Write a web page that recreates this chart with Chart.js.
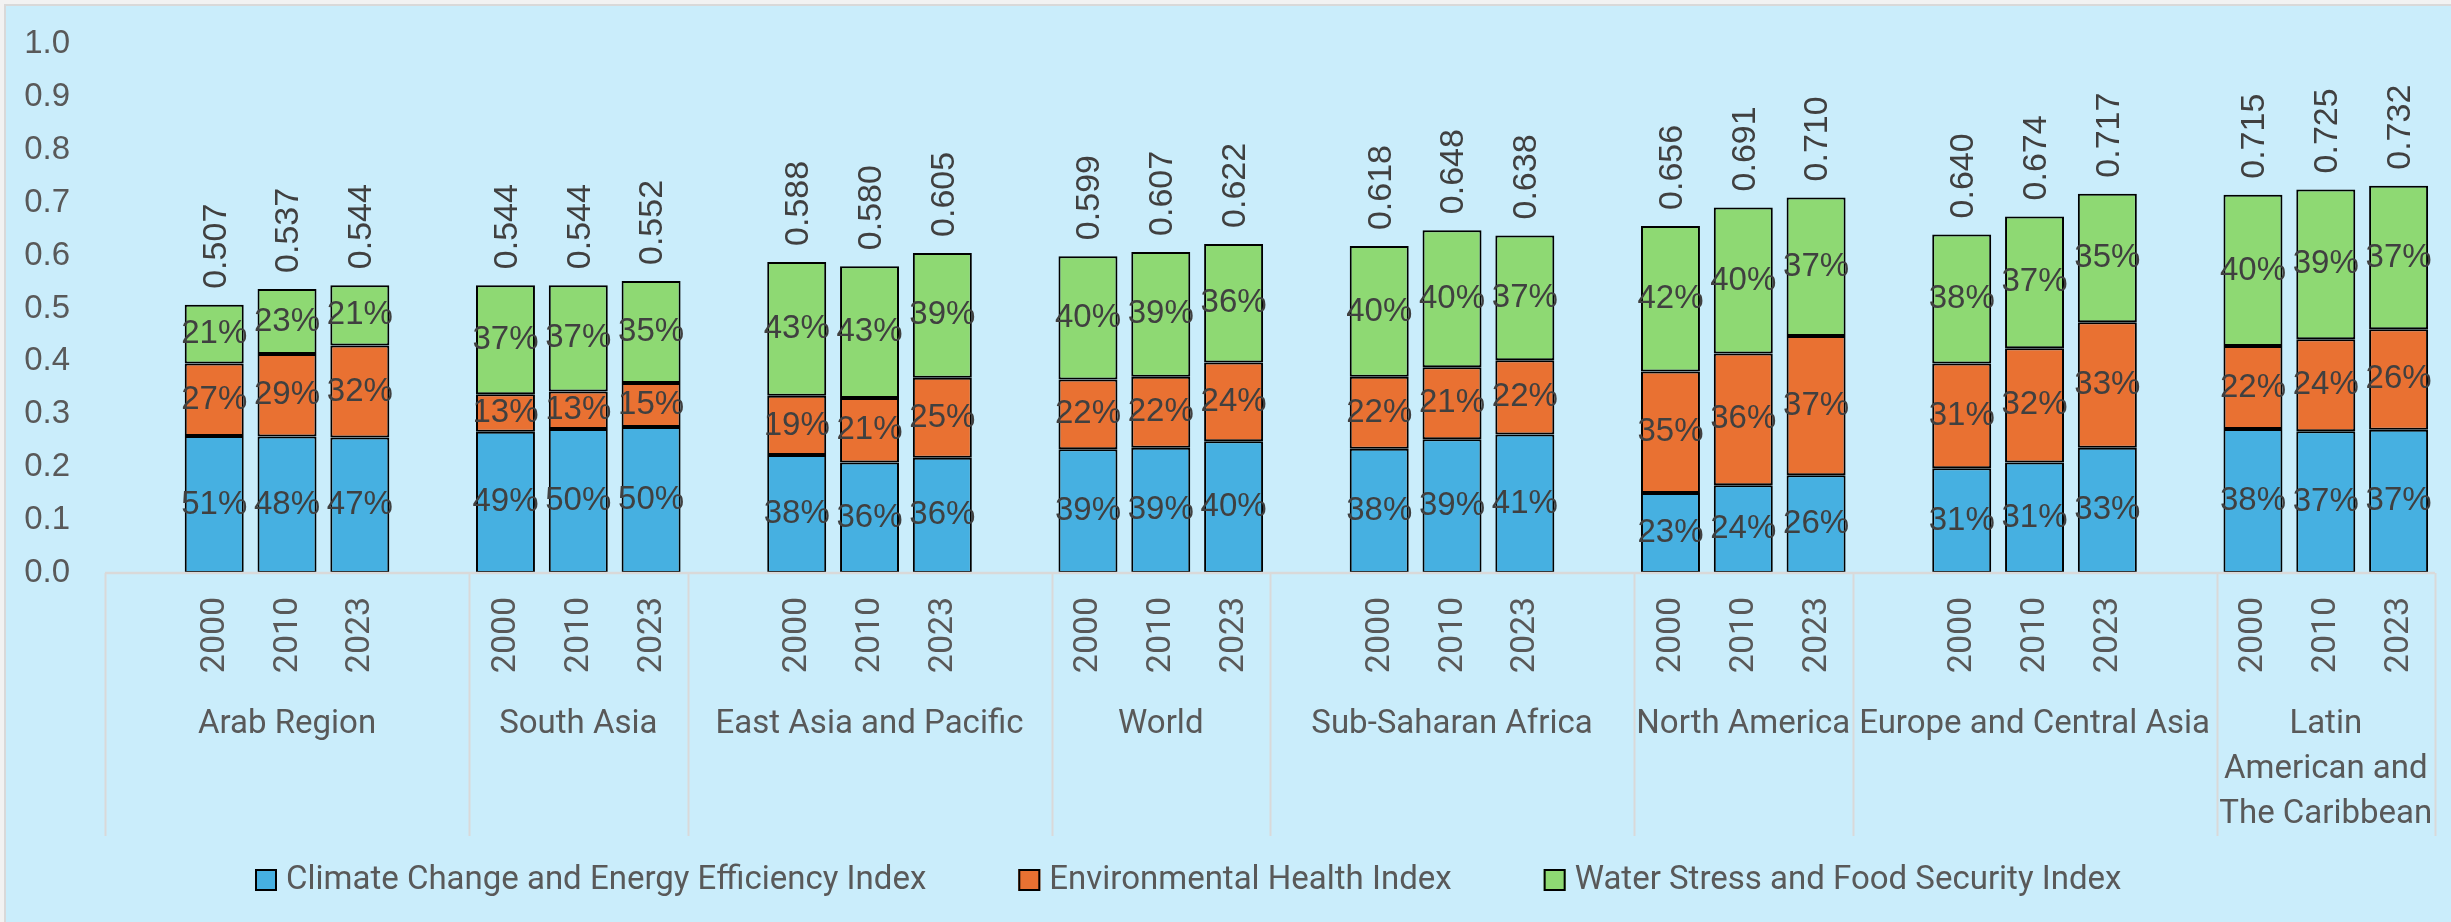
<!DOCTYPE html>
<html>
<head>
<meta charset="utf-8">
<title>Index components by region</title>
<script src="https://cdn.jsdelivr.net/npm/chart.js@4.4.1/dist/chart.umd.min.js"></script>
<style>
  html, body { margin: 0; padding: 0; background: #f2f2f2; }
  canvas { display: block; }
</style>
</head>
<body>
<canvas id="chart" width="2451" height="922"></canvas>
<script>
const regions = [
  'Arab Region', 'South Asia', 'East Asia and Pacific', 'World',
  'Sub-Saharan Africa', 'North America', 'Europe and Central Asia',
  ['Latin', 'American and', 'The Caribbean']
];
const years = ['2000', '2010', '2023'];

// index totals, one per region/year (region order above, years inside)
const totals = [
  0.507, 0.537, 0.544,  0.544, 0.544, 0.552,  0.588, 0.580, 0.605,  0.599, 0.607, 0.622,
  0.618, 0.648, 0.638,  0.656, 0.691, 0.710,  0.640, 0.674, 0.717,  0.715, 0.725, 0.732
];

// segment values
const climateValues = [
  0.259, 0.258, 0.256,  0.267, 0.272, 0.276,  0.223, 0.209, 0.218,  0.234, 0.237, 0.249,
  0.235, 0.253, 0.262,  0.151, 0.166, 0.185,  0.198, 0.209, 0.237,  0.272, 0.268, 0.271
];
const healthValues = [
  0.137, 0.156, 0.174,  0.071, 0.071, 0.083,  0.112, 0.122, 0.151,  0.132, 0.134, 0.149,
  0.136, 0.136, 0.140,  0.230, 0.249, 0.263,  0.198, 0.216, 0.237,  0.157, 0.174, 0.190
];
const waterValues = [
  0.111, 0.123, 0.114,  0.206, 0.201, 0.193,  0.253, 0.249, 0.236,  0.233, 0.236, 0.224,
  0.247, 0.259, 0.236,  0.275, 0.276, 0.262,  0.244, 0.249, 0.243,  0.286, 0.283, 0.271
];

// share labels as printed on the bars (%)
const climateShare = [51, 48, 47, 49, 50, 50, 38, 36, 36, 39, 39, 40, 38, 39, 41, 23, 24, 26, 31, 31, 33, 38, 37, 37];
const healthShare  = [27, 29, 32, 13, 13, 15, 19, 21, 25, 22, 22, 24, 22, 21, 22, 35, 36, 37, 31, 32, 33, 22, 24, 26];
const waterShare   = [21, 23, 21, 37, 37, 35, 43, 43, 39, 40, 39, 36, 40, 40, 37, 42, 40, 37, 38, 37, 35, 40, 39, 37];

const yTicks = [0, 0.1, 0.2, 0.3, 0.4, 0.5, 0.6, 0.7, 0.8, 0.9, 1.0];

// category slots: Excel layout keeps an empty slot around every other group
const slots = [];
const spans = [];
regions.forEach((r, g) => {
  const start = slots.length;
  if (g % 2 === 0) slots.push(null);
  years.forEach((y, j) => slots.push({ g: g, year: y, idx: g * 3 + j }));
  if (g % 2 === 0) slots.push(null);
  spans.push({ label: r, start: start, end: slots.length });
});

const pick = (arr) => slots.map((s) => (s ? arr[s.idx] : null));
const shares = [climateShare, healthShare, waterShare];

const axisFont = 'Roboto, "Noto Sans", sans-serif';
const numFont = '"Liberation Sans", Arial, sans-serif';

const chartDecor = {
  id: 'chartDecor',
  beforeDraw(chart) {
    const c = chart.ctx;
    c.save();
    c.fillStyle = '#d9d9d9';
    c.fillRect(4, 4, chart.width, chart.height);
    c.fillStyle = '#caedfb';
    c.fillRect(6, 6, chart.width, chart.height);
    c.restore();
  },
  afterDatasetsDraw(chart) {
    const c = chart.ctx;
    const area = chart.chartArea;
    const slotW = (area.right - area.left) / slots.length;
    c.save();

    // segment share labels
    c.font = '33px ' + numFont;
    c.fillStyle = '#404040';
    c.textAlign = 'center';
    c.textBaseline = 'middle';
    chart.data.datasets.forEach((ds, d) => {
      const meta = chart.getDatasetMeta(d);
      meta.data.forEach((bar, k) => {
        const s = slots[k];
        if (!s) return;
        c.fillText(shares[d][s.idx] + '%', bar.x, (bar.y + bar.base) / 2);
      });
    });

    // totals, rotated above each stack
    const topMeta = chart.getDatasetMeta(chart.data.datasets.length - 1);
    c.font = '34px ' + numFont;
    topMeta.data.forEach((bar, k) => {
      const s = slots[k];
      if (!s) return;
      c.save();
      c.translate(bar.x, bar.y - 16);
      c.rotate(-Math.PI / 2);
      c.textAlign = 'left';
      c.textBaseline = 'middle';
      c.fillText(totals[s.idx].toFixed(3), 0, 2);
      c.restore();
    });

    // category axis line and group separators
    c.strokeStyle = '#d9d9d9';
    c.lineWidth = 2.5;
    c.beginPath();
    c.moveTo(area.left, area.bottom);
    c.lineTo(area.right, area.bottom);
    c.stroke();
    c.lineWidth = 2;
    const sepBottom = 836;
    const bounds = [0].concat(spans.map((sp) => sp.end));
    c.beginPath();
    bounds.forEach((b) => {
      const x = Math.round(area.left + b * slotW) + 0.5;
      c.moveTo(x, area.bottom);
      c.lineTo(x, sepBottom);
    });
    c.stroke();

    // year labels
    c.fillStyle = '#595959';
    c.font = '34px ' + axisFont;
    topMeta.data.forEach((bar, k) => {
      const s = slots[k];
      if (!s) return;
      c.save();
      c.translate(bar.x, 635);
      c.rotate(-Math.PI / 2);
      c.textAlign = 'center';
      c.textBaseline = 'middle';
      c.fillText(s.year, 0, 1);
      c.restore();
    });

    // region labels
    c.font = '33px ' + axisFont;
    c.textAlign = 'center';
    c.textBaseline = 'alphabetic';
    spans.forEach((sp) => {
      const cx = area.left + ((sp.start + sp.end) / 2) * slotW;
      const lines = Array.isArray(sp.label) ? sp.label : [sp.label];
      lines.forEach((line, i) => c.fillText(line, cx, 733 + i * 45));
    });

    // legend
    c.font = '33px ' + axisFont;
    c.textAlign = 'left';
    c.textBaseline = 'middle';
    let lx = 255;
    const ly = 880;
    chart.data.datasets.forEach((ds) => {
      c.fillStyle = ds.backgroundColor;
      c.fillRect(lx, ly - 11, 22, 22);
      c.strokeStyle = '#000';
      c.lineWidth = 2;
      c.strokeRect(lx + 1, ly - 10, 20, 20);
      c.fillStyle = '#595959';
      c.fillText(ds.label, lx + 31, ly + 1);
      lx += 31 + c.measureText(ds.label).width + 92;
    });

    c.restore();
  }
};

const barStyle = {
  borderColor: '#000000',
  borderWidth: 2,
  borderSkipped: false,
  barPercentage: 0.81,
  categoryPercentage: 1.0
};

new Chart(document.getElementById('chart').getContext('2d'), {
  type: 'bar',
  data: {
    labels: slots.map((s) => (s ? s.year : '')),
    datasets: [
      Object.assign({ label: 'Climate Change and Energy Efficiency Index', data: pick(climateValues), backgroundColor: '#46b0e1' }, barStyle),
      Object.assign({ label: 'Environmental Health Index', data: pick(healthValues), backgroundColor: '#e97132' }, barStyle),
      Object.assign({ label: 'Water Stress and Food Security Index', data: pick(waterValues), backgroundColor: '#8ed973' }, barStyle)
    ]
  },
  options: {
    responsive: false,
    animation: false,
    devicePixelRatio: 1,
    layout: { padding: { left: 0, right: 16, top: 44, bottom: 349 } },
    plugins: {
      legend: { display: false },
      tooltip: { enabled: false }
    },
    scales: {
      x: {
        stacked: true,
        display: false
      },
      y: {
        stacked: true,
        min: 0,
        max: 1,
        afterFit: (scale) => {
          scale.width = 105;
          scale.paddingTop = 0;
          scale.paddingBottom = 0;
        },
        afterBuildTicks: (scale) => { scale.ticks = yTicks.map((v) => ({ value: v })); },
        grid: { display: false, drawTicks: false },
        border: { display: false },
        ticks: {
          padding: 35,
          color: '#595959',
          font: { family: numFont, size: 33 },
          callback: (v) => Number(v).toFixed(1)
        }
      }
    }
  },
  plugins: [chartDecor]
});
</script>
</body>
</html>
